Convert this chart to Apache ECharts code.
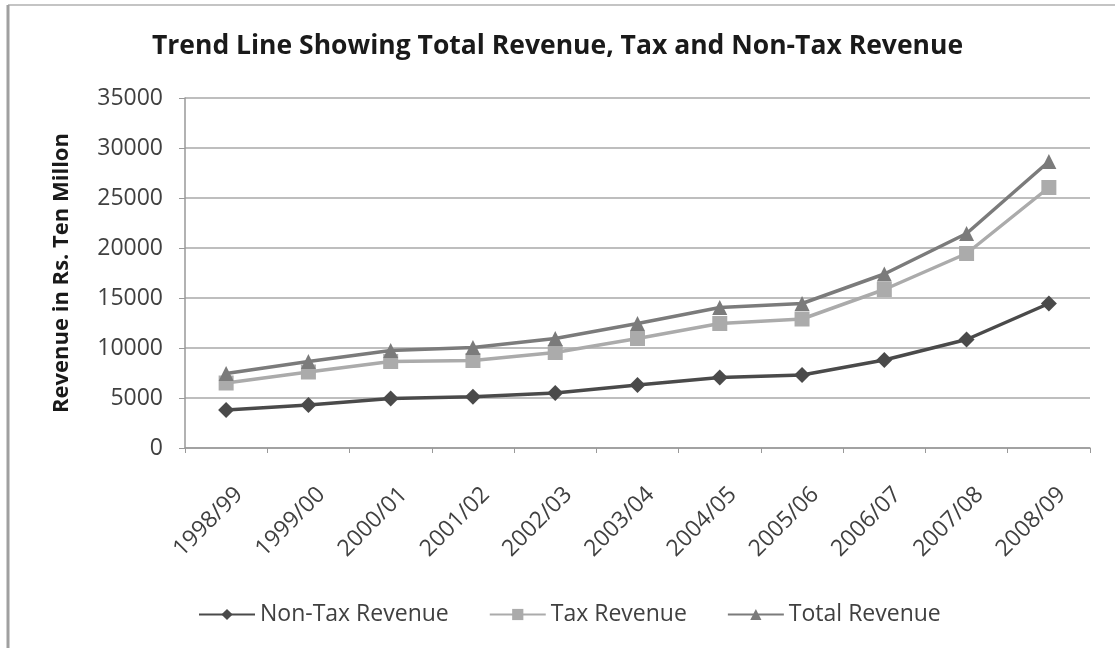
<!DOCTYPE html>
<html>
<head>
<meta charset="utf-8">
<script src="https://cdn.jsdelivr.net/npm/echarts@6/dist/echarts.min.js"></script>
<style>
  html, body { margin: 0; padding: 0; background: #fff; }
  #chart { width: 1115px; height: 648px; }
</style>
</head>
<body>
<div id="chart"></div>
<script>
// Fiscal years
const years = ['1998/99', '1999/00', '2000/01', '2001/02', '2002/03', '2003/04',
  '2004/05', '2005/06', '2006/07', '2007/08', '2008/09'];

// Revenue in Rs. ten million
const nonTaxRevenue = [3800, 4300, 4950, 5130, 5500, 6300, 7050, 7300, 8800, 10850, 14450];
const taxRevenue = [6500, 7600, 8650, 8750, 9550, 10950, 12450, 12900, 15850, 19450, 26050];
const totalRevenue = [7450, 8650, 9750, 10050, 10950, 12450, 14050, 14450, 17400, 21450, 28650];

const yTicks = { min: 0, max: 35000, interval: 5000 };

const FONT = '"Open Sans", sans-serif';
const TEXT = '#404040';

const chart = echarts.init(document.getElementById('chart'), null, { renderer: 'canvas' });

function lineSeries(name, data, color, symbol, size) {
  return {
    name, type: 'line', data, symbol, symbolSize: size,
    lineStyle: { color, width: 3.5 },
    itemStyle: { color },
    emphasis: { disabled: true },
    animation: false
  };
}

chart.setOption({
  backgroundColor: '#ffffff',
  title: {
    text: 'Trend Line Showing Total Revenue, Tax and Non-Tax Revenue',
    left: 'center', top: 28,
    textStyle: { fontFamily: FONT, fontSize: 26.5, fontWeight: 'bold', color: '#1a1a1a' }
  },
  legend: {
    top: 598, left: 193,
    itemWidth: 56, itemHeight: 14, itemGap: 40,
    textStyle: { fontFamily: FONT, fontSize: 23, color: TEXT },
    data: ['Non-Tax Revenue', 'Tax Revenue', 'Total Revenue']
  },
  grid: { left: 185, right: 25, top: 98, bottom: 200, containLabel: false },
  xAxis: {
    type: 'category', data: years, boundaryGap: true,
    axisLine: { lineStyle: { color: '#999', width: 1.5 } },
    axisTick: { show: true, length: 5, lineStyle: { color: '#999' } },
    axisLabel: {
      rotate: 45, fontFamily: FONT, fontSize: 23, color: TEXT, margin: 30, interval: 0,
      verticalAlign: 'top', padding: [7, 0, 0, 0]
    }
  },
  yAxis: {
    type: 'value', min: yTicks.min, max: yTicks.max, interval: yTicks.interval,
    name: 'Revenue in Rs. Ten Millon', nameLocation: 'middle', nameGap: 112,
    nameTextStyle: { fontFamily: FONT, fontSize: 22, fontWeight: 'bold', color: '#1a1a1a' },
    axisLine: { show: true, lineStyle: { color: '#999', width: 1.5 } },
    axisTick: { show: true, length: 6, lineStyle: { color: '#999' } },
    axisLabel: { fontFamily: FONT, fontSize: 23, color: TEXT, margin: 22, formatter: v => String(v) },
    splitLine: { lineStyle: { color: '#a8a8a8', width: 1.5 } }
  },
  series: [
    lineSeries('Non-Tax Revenue', nonTaxRevenue, '#4a4a4a', 'diamond', 16),
    lineSeries('Tax Revenue', taxRevenue, '#ababab', 'rect', 15),
    lineSeries('Total Revenue', totalRevenue, '#7b7b7b', 'triangle', 15)
  ],
  graphic: [
    { type: 'line', shape: { x1: 8, y1: 5, x2: 1115, y2: 5 }, style: { stroke: '#b0b0b0', lineWidth: 1.5 }, silent: true },
    { type: 'line', shape: { x1: 8, y1: 5, x2: 8, y2: 648 }, style: { stroke: '#a0a0a0', lineWidth: 3 }, silent: true }
  ]
});
</script>
</body>
</html>
